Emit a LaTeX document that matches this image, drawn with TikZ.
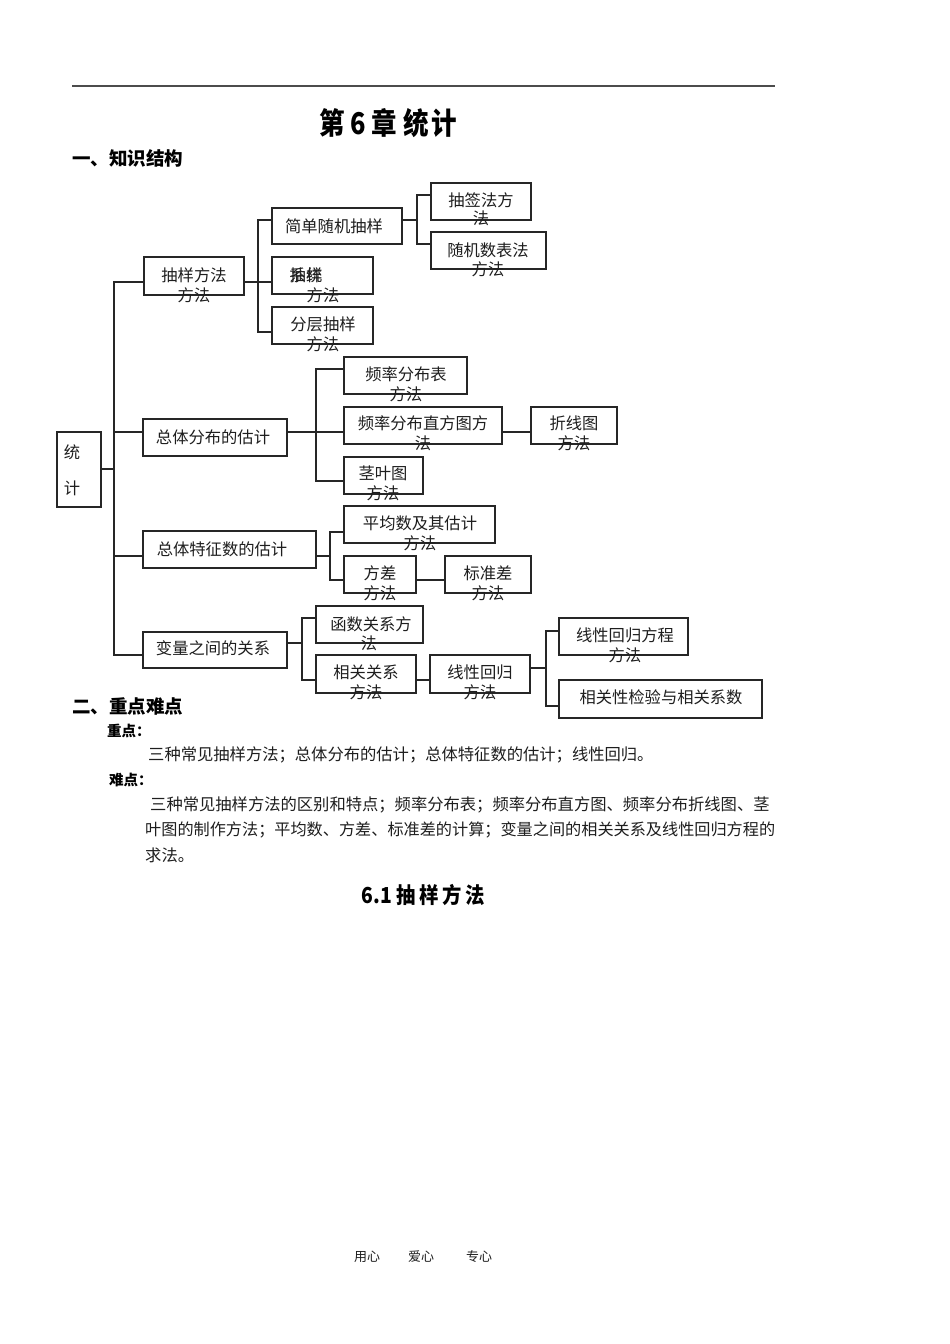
\documentclass[tikz,border=0pt]{standalone}
\usepackage{fontspec}
\usepackage{graphicx}
\setmainfont{Noto Sans CJK SC}
\newcommand\bxfont{\fontsize{16.3}{19}\selectfont}
\newcommand\parfont{\fontsize{16.3}{19}\selectfont}
\definecolor{boxc}{HTML}{262626}
\definecolor{txtc}{HTML}{1E1E1E}
\begin{document}
\begin{tikzpicture}[x=1pt,y=-1pt,
  box/.style={draw=boxc, line width=1.1pt, rectangle, inner sep=0pt},
  lbl/.style={inner sep=0pt, font=\bxfont, text=txtc},
  conn/.style={draw=boxc, line width=1.1pt},
  ptxt/.style={inner sep=0pt, anchor=west, font=\parfont, text=txtc},
  head/.style={inner sep=0pt, anchor=west, text=black}]
\useasboundingbox[fill=white] (0,0) rectangle (950,1344);
% top rule
\coordinate (r1) at (72,86);
\coordinate (r2) at (775,86);
\draw[line width=1.5pt, draw=black!70] (r1) -- (r2);
% headings
\node[inner sep=0pt] (title) at (388,123) {\scalebox{0.85}[1]{\fontsize{30}{34}\selectfont\bfseries 第 6 章 统\hspace{3pt}计}};
\node[head] (h1) at (72,158) {\fontsize{18.5}{22}\selectfont\bfseries 一、知识结构};
% ---------- boxes ----------
\node[box, minimum width=44pt, minimum height=75pt] (tj) at (79,469.5) {};
\node[box, minimum width=100pt, minimum height=38pt] (cyff) at (194,276) {};
\node[box, minimum width=130pt, minimum height=36pt] (jd) at (337,226) {};
\node[box, minimum width=101pt, minimum height=37pt] (xt) at (322.5,275.5) {};
\node[box, minimum width=101pt, minimum height=37pt] (fc) at (322.5,325.5) {};
\node[box, minimum width=100pt, minimum height=37pt] (cq) at (481,201.5) {};
\node[box, minimum width=115pt, minimum height=37pt] (sj) at (488.5,250.5) {};
\node[box, minimum width=144pt, minimum height=37pt] (zt) at (215,437.5) {};
\node[box, minimum width=123pt, minimum height=37pt] (pl) at (405.5,375.5) {};
\node[box, minimum width=158pt, minimum height=37pt] (zf) at (423,425.5) {};
\node[box, minimum width=86pt, minimum height=37pt] (zx) at (574,425.5) {};
\node[box, minimum width=79pt, minimum height=37pt] (jy) at (383.5,475.5) {};
\node[box, minimum width=173pt, minimum height=37pt] (zts) at (229.5,549.5) {};
\node[box, minimum width=151pt, minimum height=37pt] (pj) at (419.5,524.5) {};
\node[box, minimum width=72pt, minimum height=37pt] (fcha) at (380,574.5) {};
\node[box, minimum width=86pt, minimum height=37pt] (bzc) at (488,574.5) {};
\node[box, minimum width=144pt, minimum height=36pt] (bl) at (215,650) {};
\node[box, minimum width=107pt, minimum height=37pt] (hs) at (369.5,624.5) {};
\node[box, minimum width=100pt, minimum height=38pt] (xg) at (366,674) {};
\node[box, minimum width=100pt, minimum height=38pt] (xx) at (480,674) {};
\node[box, minimum width=129pt, minimum height=37pt] (xh) at (623.5,636.5) {};
\node[box, minimum width=203pt, minimum height=38pt] (xj) at (660.5,699) {};
% ---------- junctions ----------
\coordinate (j0) at (114,469);
\coordinate (j1) at (258,282);
\coordinate (j2) at (417,220);
\coordinate (j3) at (316,432);
\coordinate (j4) at (330,556);
\coordinate (j5) at (302,643);
\coordinate (j6) at (546,668);
% ---------- connectors ----------
\draw[conn] (tj.east |- j0) -- (j0);
\draw[conn] (j0) |- (cyff.west |- 0,282);
\draw[conn] (j0) |- (zt.west |- 0,432);
\draw[conn] (j0) |- (zts.west |- 0,556);
\draw[conn] (j0) |- (bl.west |- 0,655);
\draw[conn] (cyff.east |- j1) -- (j1);
\draw[conn] (j1) |- (jd.west |- 0,220);
\draw[conn] (j1) -- (xt.west |- j1);
\draw[conn] (j1) |- (fc.west |- 0,332);
\draw[conn] (jd.east |- j2) -- (j2);
\draw[conn] (j2) |- (cq.west |- 0,195);
\draw[conn] (j2) |- (sj.west |- 0,244);
\draw[conn] (zt.east |- j3) -- (j3);
\draw[conn] (j3) |- (pl.west |- 0,369);
\draw[conn] (j3) -- (zf.west |- j3);
\draw[conn] (j3) |- (jy.west |- 0,481);
\draw[conn] (zf.east |- j3) -- (zx.west |- j3);
\draw[conn] (zts.east |- j4) -- (j4);
\draw[conn] (j4) |- (pj.west |- 0,532);
\draw[conn] (j4) |- (fcha.west |- 0,580);
\draw[conn] (fcha.east |- 0,580) -- (bzc.west |- 0,580);
\draw[conn] (bl.east |- j5) -- (j5);
\draw[conn] (j5) |- (hs.west |- 0,618);
\draw[conn] (j5) |- (xg.west |- 0,680);
\draw[conn] (xg.east |- 0,680) -- (xx.west |- 0,680);
\draw[conn] (xx.east |- j6) -- (j6);
\draw[conn] (j6) |- (xh.west |- 0,631);
\draw[conn] (j6) |- (xj.west |- 0,706);
% ---------- box texts ----------
\node[lbl] (tja) at (72,452) {统};
\node[lbl] (tjb) at (72,488) {计};
\node[lbl] (cyffa) at (194,275) {抽样方法};
\node[lbl] (cyffb) at (194,295) {方法};
\node[lbl] (jda) at (334,226) {简单随机抽样};
\node[lbl] (xta) at (306,275) {系统};
\node[lbl] (xtb) at (306,275) {抽样};
\node[lbl] (xtc) at (323,295) {方法};
\node[lbl] (fca) at (323,324) {分层抽样};
\node[lbl] (fcb) at (323,344) {方法};
\node[lbl] (cqa) at (481,200) {抽签法方};
\node[lbl] (cqb) at (481,218) {法};
\node[lbl] (sja) at (488,250) {随机数表法};
\node[lbl] (sjb) at (488,269) {方法};
\node[lbl] (zta) at (213,437) {总体分布的估计};
\node[lbl] (pla) at (406,374) {频率分布表};
\node[lbl] (plb) at (406,394) {方法};
\node[lbl] (zfa) at (423,423) {频率分布直方图方};
\node[lbl] (zfb) at (423,443) {法};
\node[lbl] (zxa) at (574,423) {折线图};
\node[lbl] (zxb) at (574,443) {方法};
\node[lbl] (jya) at (383,473) {茎叶图};
\node[lbl] (jyb) at (383,493) {方法};
\node[lbl] (ztsa) at (222,549) {总体特征数的估计};
\node[lbl] (pja) at (420,523) {平均数及其估计};
\node[lbl] (pjb) at (420,543) {方法};
\node[lbl] (fchaa) at (380,573) {方差};
\node[lbl] (fchab) at (380,593) {方法};
\node[lbl] (bzca) at (488,573) {标准差};
\node[lbl] (bzcb) at (488,593) {方法};
\node[lbl] (bla) at (213,648) {变量之间的关系};
\node[lbl] (hsa) at (371,624) {函数关系方};
\node[lbl] (hsb) at (369,643) {法};
\node[lbl] (xga) at (366,672) {相关关系};
\node[lbl] (xgb) at (366,692) {方法};
\node[lbl] (xxa) at (480,672) {线性回归};
\node[lbl] (xxb) at (480,692) {方法};
\node[lbl] (xha) at (625,635) {线性回归方程};
\node[lbl] (xhb) at (625,655) {方法};
\node[lbl] (xja) at (661,697) {相关性检验与相关系数};
% ---------- section 2 ----------
\node[head] (h2) at (72,706) {\fontsize{18.5}{22}\selectfont\bfseries 二、重点难点};
\node[head] (zd) at (107,731) {\fontsize{14.5}{17}\selectfont\bfseries 重点：};
\node[ptxt] (zdt) at (148,755) {三种常见抽样方法；总体分布的估计；总体特征数的估计；线性回归。};
\node[head] (nd) at (109,780) {\fontsize{14.5}{17}\selectfont\bfseries 难点：};
\node[ptxt] (nd1) at (150,805) {三种常见抽样方法的区别和特点；频率分布表；频率分布直方图、频率分布折线图、茎};
\node[ptxt] (nd2) at (145,830) {\resizebox{630pt}{!}{叶图的制作方法；平均数、方差、标准差的计算；变量之间的相关关系及线性回归方程的}};
\node[ptxt] (nd3) at (145,855) {求法。};
\node[inner sep=0pt] (h3) at (423,895) {\scalebox{0.88}[1]{\fontsize{22}{26}\selectfont\bfseries 6.1 抽\hspace{4pt}样\hspace{4pt}方\hspace{4pt}法}};
% footer
\node[inner sep=0pt, font=\fontsize{13}{15}\selectfont, text=txtc] (f1) at (367,1257) {用心};
\node[inner sep=0pt, font=\fontsize{13}{15}\selectfont, text=txtc] (f2) at (421,1257) {爱心};
\node[inner sep=0pt, font=\fontsize{13}{15}\selectfont, text=txtc] (f3) at (479,1257) {专心};
\end{tikzpicture}
\end{document}
